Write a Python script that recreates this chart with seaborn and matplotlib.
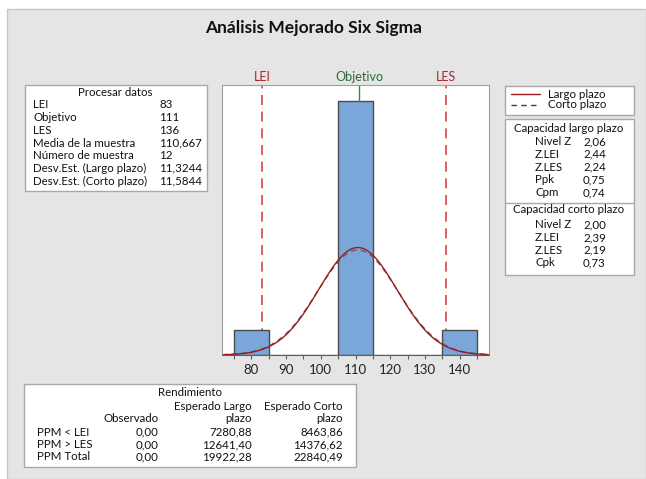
import numpy as np
import pandas as pd
import seaborn as sns
import matplotlib.pyplot as plt
from matplotlib.patches import Rectangle
from matplotlib.lines import Line2D

# datos del histograma (centro de clase y frecuencia)
centros = [80, 90, 100, 110, 120, 130, 140]
frecuencias = [1, 0, 0, 10, 0, 0, 1]
bordes = [75, 85, 95, 105, 115, 125, 135, 145]

lei, objetivo, les = 83, 111, 136
media = 110.667
n = 12
sd_largo = 11.3244
sd_corto = 11.5844

procesar_etq = ['LEI', 'Objetivo', 'LES', 'Media de la muestra', 'Número de muestra',
                'Desv.Est. (Largo plazo)', 'Desv.Est. (Corto plazo)']
procesar_val = ['83', '111', '136', '110,667', '12', '11,3244', '11,5844']

cap_largo_etq = ['Nivel Z', 'Z.LEI', 'Z.LES', 'Ppk', 'Cpm']
cap_largo_val = ['2,06', '2,44', '2,24', '0,75', '0,74']
cap_corto_etq = ['Nivel Z', 'Z.LEI', 'Z.LES', 'Cpk']
cap_corto_val = ['2,00', '2,39', '2,19', '0,73']

rend_filas = ['PPM < LEI', 'PPM > LES', 'PPM Total']
rend_obs = ['0,00', '0,00', '0,00']
rend_largo = ['7280,88', '12641,40', '19922,28']
rend_corto = ['8463,86', '14376,62', '22840,49']

sns.set_style('white')
plt.rcParams['font.family'] = ['Lato', 'DejaVu Sans']

W, H = 646, 479
fig = plt.figure(figsize=(W / 100, H / 100), dpi=100)
fig.patch.set_facecolor('white')


def px(x):
    return x / W


def py(y):
    return 1 - y / H


def caja(x0, y0, x1, y1):
    fig.patches.append(Rectangle((px(x0), py(y1)), px(x1) - px(x0), py(y0) - py(y1),
                                 transform=fig.transFigure, facecolor='white',
                                 edgecolor='#a8a8a8', lw=1, zorder=1))


def texto(x, y, s, ha='left', size=8.3, **kw):
    fig.text(px(x), py(y), s, ha=ha, va='center', fontsize=size, color='#111111', zorder=3, **kw)


# panel gris de fondo
fig.patches.append(Rectangle((px(7), 0), 1 - px(7), py(9), transform=fig.transFigure,
                             facecolor='#e5e5e5', edgecolor='#c8c8c8', lw=1, zorder=-5))

texto(314, 28, 'Análisis Mejorado Six Sigma', ha='center', size=12.5, fontweight='bold')

# grafico principal
ax = fig.add_axes([px(222), py(355), px(489) - px(222), py(85) - py(355)])
ax.set_zorder(2)
ax.set_facecolor('white')
sns.histplot(x=centros, weights=frecuencias, bins=bordes, ax=ax,
             color='#7ba6d9', edgecolor='#4a4a4a', linewidth=1, alpha=1)

xs = np.linspace(71.5, 148.5, 400)
esc = n * 10
curvas = pd.DataFrame({
    'x': np.concatenate([xs, xs]),
    'y': np.concatenate([esc * np.exp(-0.5 * ((xs - media) / sd_largo) ** 2) / (sd_largo * np.sqrt(2 * np.pi)),
                         esc * np.exp(-0.5 * ((xs - media) / sd_corto) ** 2) / (sd_corto * np.sqrt(2 * np.pi))]),
    'tipo': ['Largo plazo'] * len(xs) + ['Corto plazo'] * len(xs),
})
sns.lineplot(data=curvas[curvas.tipo == 'Corto plazo'], x='x', y='y', ax=ax,
             color='#606060', lw=1, linestyle=(0, (4, 3)), legend=False)
sns.lineplot(data=curvas[curvas.tipo == 'Largo plazo'], x='x', y='y', ax=ax,
             color='#9b1c1c', lw=1, legend=False)

ax.set_xlim(71.5, 148.5)
ax.set_ylim(0, 10.62)
for v in (lei, les):
    ax.axvline(v, color='#e0404a', lw=1.2, linestyle=(0, (6, 4)), zorder=0.5)
ax.plot([objetivo, objetivo], [10, 10.62], color='#1e9b3c', lw=1)
ax.text(lei, 10.95, 'LEI', color='#a8282e', ha='center', va='center', fontsize=9, clip_on=False)
ax.text(objetivo, 10.95, 'Objetivo', color='#2d6b3a', ha='center', va='center', fontsize=9, clip_on=False)
ax.text(les, 10.95, 'LES', color='#a8282e', ha='center', va='center', fontsize=9, clip_on=False)

ax.set_xticks(range(80, 141, 10))
ax.set_xticks(range(75, 146, 10), minor=True)
ax.set_yticks([])
ax.set_xlabel('')
ax.set_ylabel('')
ax.tick_params(axis='x', which='both', direction='out', length=3, width=0.8,
               color='#606060', labelsize=9.5, labelcolor='#222222', bottom=True)
for s in ('left', 'top', 'right'):
    ax.spines[s].set_color('#a0a0a0')
ax.spines['bottom'].set_color('#606060')

# procesar datos
caja(24.5, 85, 207, 191)
texto(115, 93, 'Procesar datos', ha='center')
for i, (e, v) in enumerate(zip(procesar_etq, procesar_val)):
    texto(33, 105 + i * 12.67, e)
    texto(159, 105 + i * 12.67, v)

# leyenda
caja(505, 86, 634, 115)
fig.lines.append(Line2D([px(511), px(540)], [py(94), py(94)], transform=fig.transFigure,
                        color='#9b1c1c', lw=1, zorder=3))
fig.lines.append(Line2D([px(511), px(540)], [py(105), py(105)], transform=fig.transFigure,
                        color='#404040', lw=1, linestyle=(0, (4, 3)), zorder=3))
texto(548, 94, 'Largo plazo')
texto(548, 105, 'Corto plazo')

# capacidad
caja(505, 119, 634, 275)
fig.lines.append(Line2D([px(505), px(634)], [py(203), py(203)], transform=fig.transFigure,
                        color='#a8a8a8', lw=1, zorder=3))
texto(569, 128, 'Capacidad largo plazo', ha='center')
for i, (e, v) in enumerate(zip(cap_largo_etq, cap_largo_val)):
    texto(535, 141.7 + i * 12.7, e)
    texto(583, 141.7 + i * 12.7, v)
texto(569, 209, 'Capacidad corto plazo', ha='center')
for i, (e, v) in enumerate(zip(cap_corto_etq, cap_corto_val)):
    texto(535, 225 + i * 12.6, e)
    texto(583, 225 + i * 12.6, v)

# rendimiento
caja(24, 384, 356, 467)
texto(190, 393, 'Rendimiento', ha='center')
texto(252, 406, 'Esperado Largo', ha='right')
texto(343, 406, 'Esperado Corto', ha='right')
texto(159, 419, 'Observado', ha='right')
texto(252, 419, 'plazo', ha='right')
texto(343, 419, 'plazo', ha='right')
for i, fila in enumerate(rend_filas):
    y = 432 + i * 12.5
    texto(37, y, fila)
    texto(159, y, rend_obs[i], ha='right')
    texto(252, y, rend_largo[i], ha='right')
    texto(343, y, rend_corto[i], ha='right')

fig.savefig('out.png', dpi=100)
